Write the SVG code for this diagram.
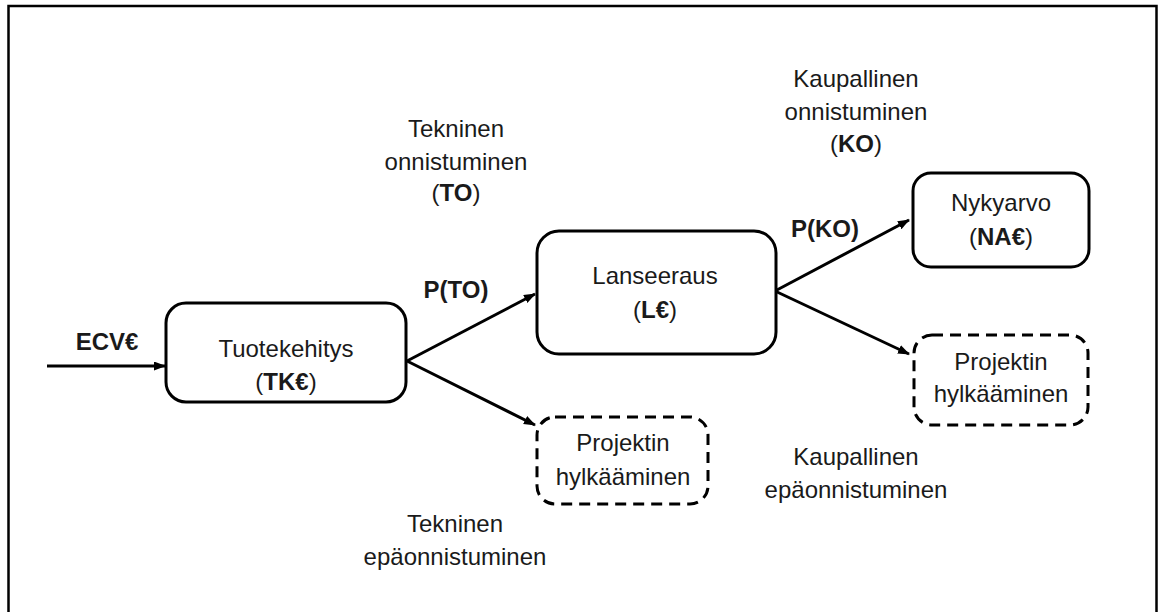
<svg xmlns="http://www.w3.org/2000/svg" width="1158" height="612" viewBox="0 0 1158 612">
<defs>
<style>
text{font-family:"Liberation Sans",Arial,sans-serif;font-size:24px;fill:#1a1a1a;text-anchor:middle}
.b{font-weight:bold}
.box{fill:#fff;stroke:#000;stroke-width:3}
.dash{stroke-dasharray:11 7}
.con{stroke:#000;stroke-width:3;fill:none;marker-end:url(#ah)}
</style>
<marker id="ah" markerUnits="userSpaceOnUse" markerWidth="12" markerHeight="10" refX="11" refY="4.5" orient="auto">
<path d="M0,0 L12,4.5 L0,9 z" fill="#000"/>
</marker>
</defs>
<rect width="1158" height="612" fill="#fff"/>
<path d="M8.5,612 V6 H1156.5 V612" fill="none" stroke="#000" stroke-width="2.5"/>
<g id="connectors">
<line class="con" x1="47" y1="366" x2="165" y2="366"/>
<line class="con" x1="407" y1="361" x2="535" y2="294"/>
<line class="con" x1="407" y1="361" x2="535" y2="425"/>
<line class="con" x1="775" y1="291" x2="909" y2="220"/>
<line class="con" x1="775" y1="291" x2="909" y2="354"/>
</g>
<g id="labels">
<text class="b" x="107" y="350">ECV€</text>
<text class="b" x="456" y="298">P(TO)</text>
<text class="b" x="825" y="237">P(KO)</text>
<text x="456" y="137">Tekninen</text>
<text x="456" y="170">onnistuminen</text>
<text x="456" y="201">(<tspan class="b">TO</tspan>)</text>
<text x="856" y="87">Kaupallinen</text>
<text x="856" y="120">onnistuminen</text>
<text x="856" y="152">(<tspan class="b">KO</tspan>)</text>
<text x="856" y="465">Kaupallinen</text>
<text x="856" y="498">epäonnistuminen</text>
<text x="455" y="532">Tekninen</text>
<text x="455" y="565">epäonnistuminen</text>
</g>
<g id="tuotekehitys">
<rect class="box" x="166" y="303" width="240" height="99" rx="20"/>
<text x="286" y="357">Tuotekehitys</text>
<text x="286" y="390">(<tspan class="b">TK€</tspan>)</text>
</g>
<g id="lanseeraus">
<rect class="box" x="537" y="231" width="239" height="123" rx="22"/>
<text x="655" y="284">Lanseeraus</text>
<text x="655" y="318">(<tspan class="b">L€</tspan>)</text>
</g>
<g id="nykyarvo">
<rect class="box" x="913" y="173" width="176" height="94" rx="18"/>
<text x="1001" y="211">Nykyarvo</text>
<text x="1001" y="245">(<tspan class="b">NA€</tspan>)</text>
</g>
<g id="hylkays1">
<rect class="box dash" x="537" y="417" width="171" height="87" rx="18"/>
<text x="623" y="451">Projektin</text>
<text x="623" y="485">hylkääminen</text>
</g>
<g id="hylkays2">
<rect class="box dash" x="914" y="335" width="174" height="90" rx="18"/>
<text x="1001" y="370">Projektin</text>
<text x="1001" y="402">hylkääminen</text>
</g>
</svg>
